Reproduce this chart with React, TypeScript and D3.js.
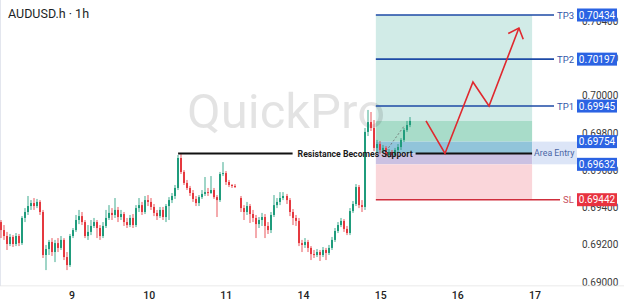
import React from 'react';
import * as d3 from 'd3';

const W = 624;
const H = 307;

const title = 'AUDUSD.h · 1h';
const watermark = 'QuickPro';
const dayLabels = ['9', '10', '11', '14', '15', '16', '17'];
const priceTicks = [0.69, 0.692, 0.694, 0.696, 0.698, 0.7, 0.702, 0.704];

// hourly candles, evenly spaced from firstHour to lastHour (hours from the start of day "9")
const firstHour = -22;
const lastHour = 105;
const sessionOpens = [
  { index: 0, open: 0.69322 },
  { index: 80, open: 0.69451 },
];
const closes: (number | null)[] = [
  0.69279, 0.69247, 0.69204, 0.69242, 0.69204, 0.69247, 0.69209, 0.69344, 0.69376, 0.69408,
  0.69424, 0.69408, 0.6943, 0.69376, 0.69145, 0.69177, 0.69215, 0.69161, 0.69209, 0.69183,
  0.69226, 0.69134, 0.69091, 0.69247, 0.69279, 0.69333, 0.69354, 0.69322, 0.69247, 0.69269,
  0.69301, 0.69322, 0.6929, 0.69247, 0.69301, 0.69344, 0.69371, 0.6936, 0.69387, 0.69349,
  0.69365, 0.69322, 0.69306, 0.69344, 0.69306, 0.69397, 0.69413, 0.69376, 0.6944, 0.6943,
  0.69403, 0.69371, 0.69354, 0.69387, 0.69349, 0.69408, 0.6944, 0.69462, 0.69505, 0.69666,
  0.69591, 0.69532, 0.69505, 0.69478, 0.69446, 0.69424, 0.69456, 0.69473, 0.69483, 0.69478,
  0.69494, 0.69456, 0.6944, 0.6958, 0.69585, 0.69537, 0.69521, 0.69516, 0.6951, null,
  0.69397, 0.69376, 0.69408, 0.69365, 0.69344, 0.69311, 0.69333, 0.69349, 0.69301, 0.69279,
  0.6936, 0.69413, 0.6943, 0.69451, 0.69462, 0.6944, 0.69376, 0.69344, 0.69328, 0.69209,
  0.69199, 0.69215, 0.69183, 0.6915, 0.69145, 0.69161, 0.69145, 0.69172, 0.69156, 0.69183,
  0.69226, 0.69274, 0.69306, 0.69328, 0.69285, 0.69263, 0.69381, 0.69419, 0.6951, 0.69413,
  0.69403, 0.69806, 0.69859, 0.69827, 0.6972, 0.69741, 0.69709, 0.6972, 0.69682, 0.69698,
  0.69682, 0.69709, 0.69725, 0.69763, 0.69816, 0.69843, 0.69865,
];
const highs: (number | null)[] = [
  0.69333, 0.69306, 0.69269, 0.69258, 0.69252, 0.69263, 0.69258, 0.69354, 0.69397, 0.69462,
  0.6944, 0.69451, 0.69446, 0.6944, 0.69387, 0.69199, 0.69226, 0.69236, 0.69226, 0.69236,
  0.69247, 0.69236, 0.69161, 0.69258, 0.6929, 0.6936, 0.69387, 0.69376, 0.69333, 0.69306,
  0.69333, 0.69344, 0.69333, 0.69306, 0.69322, 0.69387, 0.69413, 0.69397, 0.69451, 0.69403,
  0.69387, 0.69376, 0.69344, 0.6936, 0.69365, 0.69413, 0.69451, 0.6943, 0.69462, 0.69467,
  0.69451, 0.69419, 0.69387, 0.69403, 0.69403, 0.69419, 0.69456, 0.69478, 0.69521, 0.69682,
  0.69687, 0.69601, 0.69548, 0.69516, 0.69494, 0.69462, 0.69467, 0.69494, 0.69564, 0.69505,
  0.69569, 0.69505, 0.69467, 0.69591, 0.69644, 0.69596, 0.69548, 0.69526, 0.69526, null,
  0.69462, 0.69413, 0.6943, 0.69419, 0.69387, 0.6936, 0.69349, 0.69371, 0.69365, 0.69322,
  0.69376, 0.69467, 0.69451, 0.69483, 0.69483, 0.69473, 0.69451, 0.69392, 0.6936, 0.69344,
  0.69226, 0.69236, 0.69226, 0.69193, 0.69172, 0.69177, 0.69172, 0.69188, 0.69183, 0.69199,
  0.69242, 0.6929, 0.69322, 0.69344, 0.69338, 0.69301, 0.69397, 0.69435, 0.69526, 0.69521,
  0.6944, 0.69827, 0.69924, 0.69913, 0.6987, 0.69763, 0.69757, 0.69736, 0.6973, 0.69714,
  0.69709, 0.6972, 0.69741, 0.69773, 0.69827, 0.69865, 0.69886,
];
const lows: (number | null)[] = [
  0.69236, 0.69226, 0.69172, 0.69193, 0.69188, 0.69193, 0.69193, 0.69199, 0.69322, 0.6936,
  0.69387, 0.69387, 0.69397, 0.6936, 0.69129, 0.69064, 0.69145, 0.6914, 0.69107, 0.69161,
  0.69172, 0.69118, 0.69064, 0.69081, 0.69236, 0.69269, 0.69311, 0.69306, 0.69236, 0.69226,
  0.69252, 0.6929, 0.69236, 0.69226, 0.69236, 0.6929, 0.69333, 0.69333, 0.69344, 0.69322,
  0.69333, 0.69301, 0.6929, 0.69295, 0.6929, 0.69295, 0.69376, 0.6936, 0.69365, 0.69408,
  0.69387, 0.69354, 0.69333, 0.69344, 0.69333, 0.69322, 0.69333, 0.69424, 0.69446, 0.69494,
  0.6958, 0.69521, 0.69494, 0.69462, 0.6943, 0.69408, 0.69408, 0.69446, 0.69462, 0.69462,
  0.69473, 0.69446, 0.69349, 0.6943, 0.69569, 0.69521, 0.6951, 0.69505, 0.69505, null,
  0.69376, 0.69333, 0.6936, 0.69317, 0.69322, 0.69236, 0.6929, 0.69301, 0.69236, 0.69258,
  0.69263, 0.69349, 0.69397, 0.69413, 0.6944, 0.69419, 0.69354, 0.69306, 0.69301, 0.69193,
  0.69161, 0.69183, 0.69161, 0.69118, 0.69129, 0.69134, 0.69113, 0.69134, 0.69118, 0.69145,
  0.69172, 0.69215, 0.69263, 0.69295, 0.69269, 0.69252, 0.69252, 0.69371, 0.69408, 0.69397,
  0.69376, 0.69387, 0.69784, 0.69811, 0.69703, 0.69698, 0.69687, 0.69693, 0.69671, 0.69666,
  0.69671, 0.69671, 0.69693, 0.69709, 0.69752, 0.69806, 0.69832,
];

// trade plan
const tpNames = ['TP3', 'TP2', 'TP1'];
const tpPrices = [0.70434, 0.70197, 0.69945];
const slPrice = 0.69442;
const entryPrices = [0.69754, 0.69632];
const entryLabel = 'Area Entry';
const zoneEdges = [0.70434, 0.69865, 0.69754, 0.6969, 0.69632, 0.69442];
const zoneStartHour = 94.5;
const zoneEndHour = 143.1;

// support line
const supportLabel = 'Resistance Becomes Support';
const supportPrice = 0.6969;
const supportStartHour = 33;

// projected path
const pathHours = [110.1, 116.0, 124.7, 129.7, 139.0];
const pathPrices = [0.69865, 0.6969, 0.70074, 0.69945, 0.70364];

// dashed trendline in consolidation
const trendHours = [97.7, 103.3];
const trendPrices = [0.69703, 0.69838];

const GREEN = '#1f9c7c';
const RED = '#e5393f';
const zoneFills = ['#d1ebe7', '#a8dcc9', '#91c4da', '#cbc1e2', '#fad6da'];
const FONT = 'Roboto, "Noto Sans", sans-serif';

export default function App() {
  const x = d3.scaleLinear().domain([0, 144]).range([72, 535]);
  const y = d3.scaleLinear().domain([0.69, 0.70434]).range([282, 15]);
  const n = closes.length;
  const xc = d3.scaleLinear().domain([0, n - 1]).range([x(firstHour), x(lastHour)]);

  const candles = closes
    .map((c, i) => {
      if (c == null) return null;
      const so = sessionOpens.find((s) => s.index === i);
      const open = so ? so.open : (closes[i - 1] as number);
      const hi = Math.max(highs[i] as number, open, c);
      const lo = Math.min(lows[i] as number, open, c);
      return { i, open, close: c, high: hi, low: lo };
    })
    .filter(Boolean) as { i: number; open: number; close: number; high: number; low: number }[];

  const zx0 = x(zoneStartHour);
  const zx1 = x(zoneEndHour);
  const boxX = 577;
  const boxW = 40;
  const boxH = 13;
  const tpLineEnd = 554;
  const slLineEnd = 560;

  const line = d3
    .line<number>()
    .x((_, i) => x(pathHours[i]))
    .y((p) => y(p));
  const pathD = line(pathPrices) || '';
  const m = pathHours.length - 1;
  const tx = x(pathHours[m]);
  const ty = y(pathPrices[m]);
  const px = x(pathHours[m - 1]);
  const py = y(pathPrices[m - 1]);
  const ang = Math.atan2(py - ty, px - tx);
  const headLen = 12;
  const headA = (42 * Math.PI) / 180;
  const h1 = [tx + headLen * Math.cos(ang + headA), ty + headLen * Math.sin(ang + headA)];
  const h2 = [tx + headLen * Math.cos(ang - headA), ty + headLen * Math.sin(ang - headA)];

  const sy = y(supportPrice);
  const sx0 = x(supportStartHour);
  const sx1 = zx1;
  const smid = (sx0 + sx1) / 2;
  const sTextW = 115;

  return (
    <svg
      width={W}
      height={H}
      style={{ position: 'absolute', left: 0, top: 0, background: '#fff' }}
      fontFamily={FONT}
    >
      <rect x={0} y={0} width={W} height={H} fill="#fff" />
      <line x1={0.5} y1={0} x2={0.5} y2={286} stroke="#e3e6ee" />

      {/* title */}
      <text x={8} y={18} fontSize={12.5} fill="#1c1f26">
        {title}
      </text>

      {/* price tick labels */}
      {priceTicks.map((p) => (
        <text key={p} x={582} y={y(p) + 3.5} fontSize={10} fill="#3a3a3a">
          {p.toFixed(5)}
        </text>
      ))}

      {/* zones */}
      {zoneFills.map((f, i) => (
        <rect
          key={i}
          x={zx0}
          y={y(zoneEdges[i])}
          width={zx1 - zx0}
          height={y(zoneEdges[i + 1]) - y(zoneEdges[i])}
          fill={f}
        />
      ))}
      <rect
        x={zx1}
        y={y(entryPrices[0])}
        width={boxX - zx1}
        height={y(entryPrices[1]) - y(entryPrices[0])}
        fill="#dce5f7"
      />
      <text x={zx1 + 2} y={(y(entryPrices[0]) + y(entryPrices[1])) / 2 + 3} fontSize={8.8} fill="#4a66a6">
        {entryLabel}
      </text>

      {/* watermark */}
      <text x={187} y={128} fontSize={49} fill="#000" fillOpacity={0.11} fontFamily={FONT}>
        {watermark}
      </text>

      {/* candles */}
      {candles.map((c) => {
        const cx = Math.round(xc(c.i));
        const col = c.close >= c.open ? GREEN : RED;
        const yt = y(Math.max(c.open, c.close));
        const yb = y(Math.min(c.open, c.close));
        return (
          <g key={c.i}>
            <rect x={cx - 0.5} y={y(c.high)} width={1} height={Math.max(1, y(c.low) - y(c.high))} fill={col} opacity={0.85} />
            <rect x={cx - 1} y={yt} width={2} height={Math.max(1, yb - yt)} fill={col} />
          </g>
        );
      })}

      {/* dashed trendline */}
      <line
        x1={x(trendHours[0])}
        y1={y(trendPrices[0])}
        x2={x(trendHours[1])}
        y2={y(trendPrices[1])}
        stroke="#6a6a6a"
        strokeWidth={0.8}
        strokeDasharray="2,2"
      />

      {/* support line */}
      <line x1={sx0} y1={sy} x2={smid - sTextW / 2 - 5} y2={sy} stroke="#111" strokeWidth={2} />
      <line x1={smid + sTextW / 2 + 3} y1={sy} x2={sx1} y2={sy} stroke="#111" strokeWidth={2} />
      <text
        x={smid}
        y={sy + 3.3}
        textAnchor="middle"
        fontSize={9}
        fontWeight={700}
        fill="#1a1a1a"
        textLength={sTextW}
        lengthAdjust="spacingAndGlyphs"
      >
        {supportLabel}
      </text>

      {/* TP lines */}
      {tpPrices.map((p, i) => (
        <g key={p}>
          <line x1={zx0} y1={y(p)} x2={tpLineEnd} y2={y(p)} stroke="#1d4aa6" strokeWidth={1.6} />
          <text x={557} y={y(p) + 3.5} fontSize={9.5} fill="#3457a8">
            {tpNames[i]}
          </text>
        </g>
      ))}
      {/* SL line */}
      <line x1={zx0} y1={y(slPrice)} x2={slLineEnd} y2={y(slPrice)} stroke="#cf2e3c" strokeWidth={1.6} />
      <text x={563} y={y(slPrice) + 3.5} fontSize={9.5} fill="#c8505e">
        SL
      </text>

      {/* projected path */}
      <path d={pathD} fill="none" stroke="#e0282e" strokeWidth={1.6} strokeLinejoin="miter" />
      <path
        d={`M${h1[0]},${h1[1]}L${tx},${ty}L${h2[0]},${h2[1]}`}
        fill="none"
        stroke="#e0282e"
        strokeWidth={1.6}
      />

      {/* price boxes */}
      {[...tpPrices, ...entryPrices].map((p) => (
        <g key={'b' + p}>
          <rect x={boxX} y={y(p) - boxH / 2} width={boxW} height={boxH} fill="#2b63e3" />
          <text x={boxX + boxW / 2} y={y(p) + 3.6} textAnchor="middle" fontSize={10} fill="#fff">
            {p.toFixed(5)}
          </text>
        </g>
      ))}
      <rect x={boxX} y={y(slPrice) - boxH / 2} width={boxW} height={boxH} fill="#e8323f" />
      <text x={boxX + boxW / 2} y={y(slPrice) + 3.6} textAnchor="middle" fontSize={10} fill="#fff">
        {slPrice.toFixed(5)}
      </text>

      {/* x axis */}
      <line x1={0} y1={286} x2={W} y2={286} stroke="#e3e3e3" />
      <rect x={0} y={286.5} width={W} height={H - 286.5} fill="#fff" />
      {dayLabels.map((d, i) => (
        <text key={d} x={x(i * 24)} y={299} textAnchor="middle" fontSize={10.5} fontWeight={500} fill="#222">
          {d}
        </text>
      ))}
    </svg>
  );
}
